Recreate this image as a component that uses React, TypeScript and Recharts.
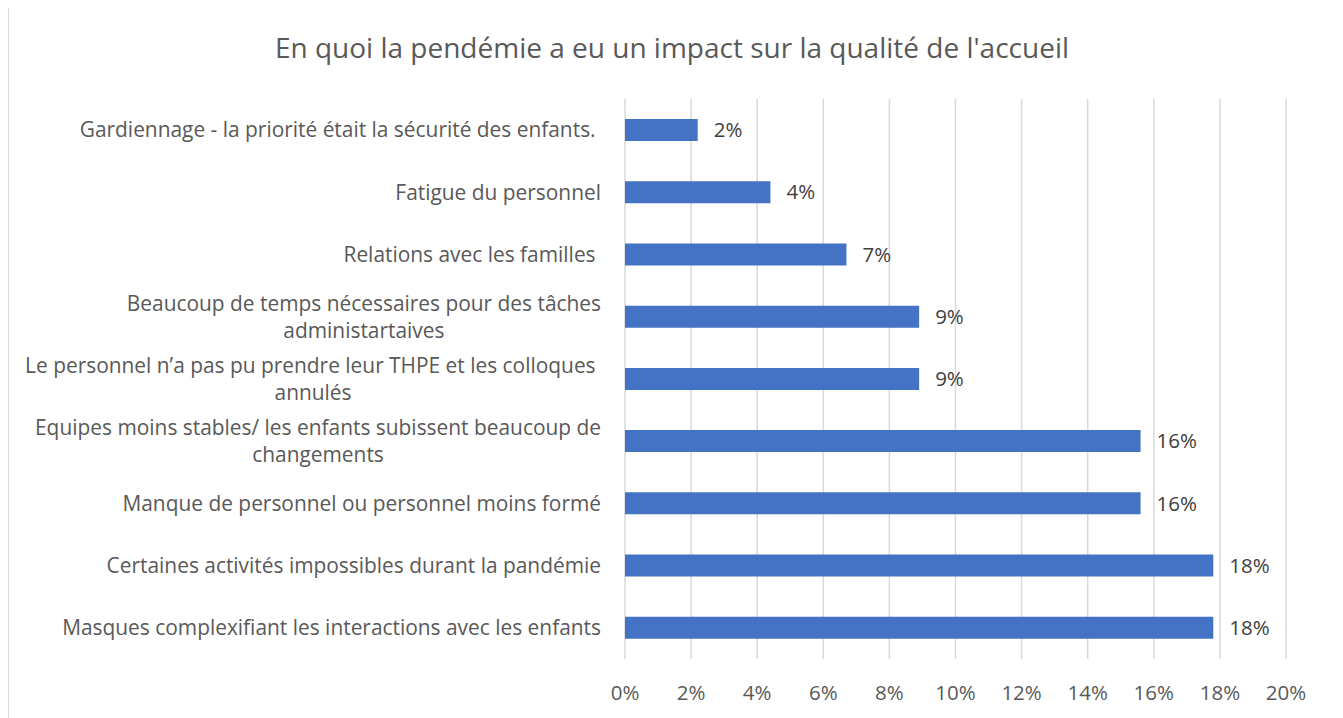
import React from 'react'
import { BarChart, Bar, XAxis, YAxis, CartesianGrid, LabelList } from 'recharts'

const title = "En quoi la pendémie a eu un impact sur la qualité de l'accueil"

const categories = [
  'Gardiennage - la priorité était la sécurité des enfants. ',
  'Fatigue du personnel',
  'Relations avec les familles ',
  'Beaucoup de temps nécessaires pour des tâches\nadministartaives',
  'Le personnel n’a pas pu prendre leur THPE et les colloques \nannulés',
  'Equipes moins stables/ les enfants subissent beaucoup de\nchangements',
  'Manque de personnel ou personnel moins formé',
  'Certaines activités impossibles durant la pandémie',
  'Masques complexifiant les interactions avec les enfants',
]

const values = [2.2, 4.4, 6.7, 8.9, 8.9, 15.6, 15.6, 17.8, 17.8]

const xTicks = [0, 2, 4, 6, 8, 10, 12, 14, 16, 18, 20]

const data = categories.map((name, i) => ({ name, value: values[i] }))

const FONT = '"Open Sans", sans-serif'
const CAT_SIZE = 20.9
const LINE_H = 27

let ctx: CanvasRenderingContext2D | null = null
function measure(s: string) {
  if (!ctx) {
    ctx = document.createElement('canvas').getContext('2d')
  }
  if (!ctx) return s.length * CAT_SIZE * 0.5
  ctx.font = `${CAT_SIZE}px ${FONT}`
  return ctx.measureText(s).width
}

function CategoryTick(props: any) {
  const { x, y, payload } = props
  const lines: string[] = String(payload.value).split('\n')
  if (lines.length === 1) {
    return (
      <text x={x} y={y} dy="0.35em" textAnchor="end" fill="#595959" fontSize={CAT_SIZE} fontFamily={FONT} style={{ whiteSpace: 'pre' }}>
        {lines[0]}
      </text>
    )
  }
  const w = Math.max(...lines.map(measure))
  const cx = x - w / 2
  const top = y - ((lines.length - 1) * LINE_H) / 2
  return (
    <text textAnchor="middle" fill="#595959" fontSize={CAT_SIZE} fontFamily={FONT} style={{ whiteSpace: 'pre' }}>
      {lines.map((l, i) => (
        <tspan key={i} x={cx} y={top + i * LINE_H} dy="0.35em">
          {l}
        </tspan>
      ))}
    </text>
  )
}

export default function App() {
  return (
    <div
      style={{
        position: 'relative',
        width: 1328,
        height: 720,
        marginTop: -2,
        boxSizing: 'border-box',
        border: '1px solid #d9d9d9',
        background: '#fff',
        fontFamily: FONT,
      }}
    >
      <div
        style={{
          position: 'absolute',
          top: 23,
          left: 0,
          width: '100%',
          textAlign: 'center',
          fontSize: 28,
          lineHeight: '34px',
          color: '#595959',
        }}
      >
        {title}
      </div>
      <BarChart
        width={1326}
        height={712}
        data={data}
        layout="vertical"
        margin={{ top: 92, right: 49, bottom: 10, left: 0 }}
        barSize={22}
      >
        <CartesianGrid horizontal={false} stroke="#d9d9d9" strokeWidth={1.5} />
        <XAxis
          type="number"
          domain={[0, 20]}
          ticks={xTicks}
          tickFormatter={(v: number) => `${v}%`}
          axisLine={false}
          tickLine={false}
          tickSize={0}
          tickMargin={26}
          height={50}
          interval={0}
          tick={{ fill: '#595959', fontSize: 20.5, fontFamily: FONT }}
        />
        <YAxis
          type="category"
          dataKey="name"
          width={616}
          axisLine={false}
          tickLine={false}
          tickSize={0}
          tickMargin={24}
          interval={0}
          tick={<CategoryTick />}
        />
        <Bar dataKey="value" fill="#4472C4" isAnimationActive={false}>
          <LabelList
            dataKey="value"
            position="right"
            offset={16}
            formatter={(v: any) => `${Math.round(Number(v))}%`}
            fill="#404040"
            fontSize={20.5}
            fontFamily={FONT}
          />
        </Bar>
      </BarChart>
    </div>
  )
}
